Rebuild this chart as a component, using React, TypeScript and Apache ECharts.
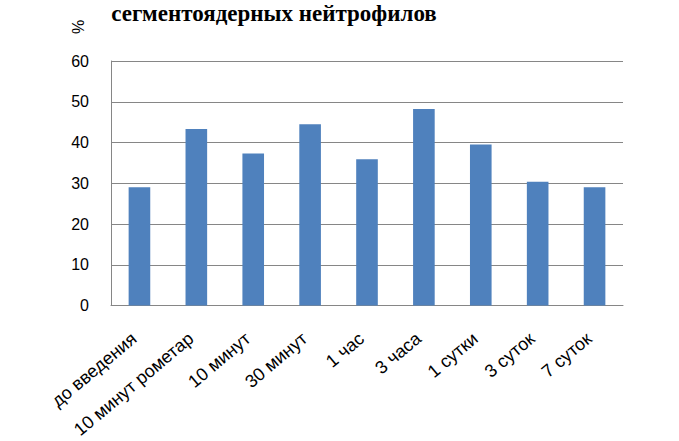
import React, { useEffect, useRef } from "react";
import * as echarts from "echarts";

const categories = [
  "до введения",
  "10 минут рометар",
  "10 минут",
  "30 минут",
  "1 час",
  "3 часа",
  "1 сутки",
  "3 суток",
  "7 суток",
];
const values = [29.0, 43.3, 37.3, 44.5, 35.9, 48.2, 39.5, 30.4, 29.0];
const titleText = "сегментоядерных нейтрофилов";
const yUnit = "%";

export default function App() {
  const ref = useRef<HTMLDivElement>(null);
  useEffect(() => {
    if (!ref.current) return;
    const chart = echarts.init(ref.current, undefined, { renderer: "svg" });
    chart.setOption({
      animation: false,
      backgroundColor: "#ffffff",
      grid: { left: 111, right: 56, top: 61, bottom: 134, containLabel: false },
      graphic: [
        {
          type: "text",
          x: 274,
          y: 13,
          style: {
            text: titleText,
            font: "bold 23px 'Liberation Serif', 'DejaVu Serif', serif",
            fill: "#000",
            align: "center",
            verticalAlign: "middle",
          },
        },
        {
          type: "text",
          x: 78,
          y: 27,
          rotation: Math.PI / 2,
          style: {
            text: yUnit,
            font: "16px 'Liberation Sans', sans-serif",
            fill: "#000",
            align: "center",
            verticalAlign: "middle",
          },
        },
      ],
      xAxis: {
        type: "category",
        data: categories,
        axisLine: { show: true, lineStyle: { color: "#868686", width: 1 } },
        axisTick: { show: false },
        axisLabel: {
          interval: 0,
          rotate: 40,
          margin: 26,
          padding: [0, 7, 0, 0],
          color: "#000",
          fontSize: 18,
          fontFamily: "'Liberation Sans', sans-serif",
        },
      },
      yAxis: {
        type: "value",
        min: 0,
        max: 60,
        interval: 10,
        axisLine: { show: true, lineStyle: { color: "#868686", width: 1 } },
        axisTick: { show: false },
        splitLine: { show: true, lineStyle: { color: "#868686", width: 1 } },
        axisLabel: {
          margin: 22,
          color: "#000",
          fontSize: 16,
          fontFamily: "'Liberation Sans', sans-serif",
        },
      },
      series: [
        {
          type: "bar",
          data: values,
          barWidth: "38%",
          itemStyle: { color: "#4F81BD" },
        },
      ],
    });
    return () => chart.dispose();
  }, []);
  return (
    <div
      ref={ref}
      style={{ width: 679, height: 441, position: "absolute", left: 0, top: 0, overflow: "hidden" }}
    />
  );
}
